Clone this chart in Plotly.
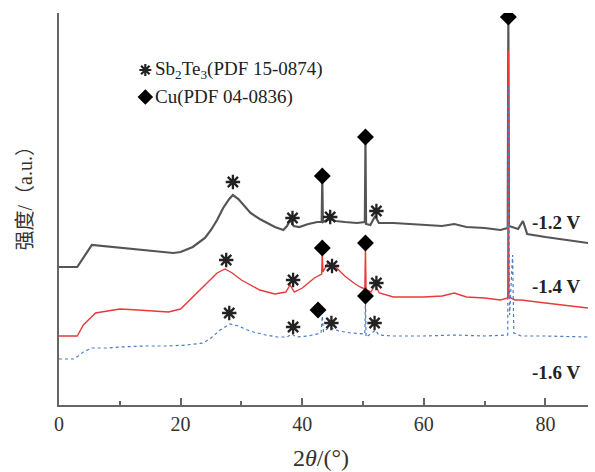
import plotly.graph_objects as go

# ---- data (2θ in degrees, intensity in a.u. incl. vertical offset) ----
x_12 = [0, 3.0, 5.4, 7, 10, 13, 16, 18.8, 20, 22, 24, 25, 26, 27, 28, 28.6, 29.5, 30.5, 31.5, 33,
        34.2, 35.5, 36.9, 37.5, 38, 38.6, 39.5, 41, 42.5, 43.2, 43.3, 43.4, 44.5, 45.5, 47, 49, 50.3,
        50.4, 50.5, 51.2, 52, 52.6, 55, 60, 63, 65, 67, 70, 72.6, 73.8, 73.9, 74.0, 74.8, 75.5, 76.3,
        77, 80, 84, 87]
y_12 = [138, 138, 160, 159, 157, 155, 153, 152, 153, 158, 167, 175, 185, 197, 206, 210, 206, 199, 192, 186,
        182, 178, 175, 179, 185, 179, 178, 181, 183, 183, 225, 183, 186, 184, 183, 182, 183,
        262, 181, 180, 189, 182, 182, 180, 179, 181, 178, 177, 175, 177, 385, 179, 177, 176, 184,
        171, 168, 165, 162]

x_14 = [0, 3.0, 4, 6, 8, 10, 13, 16, 18, 20, 21.5, 23, 24.5, 26, 27.3, 28.5, 30, 31.4, 33, 35.5, 37.3,
        38, 38.7, 40, 42, 43.2, 43.3, 43.4, 44.3, 45.5, 47, 48.5, 49.5, 50.3, 50.4, 50.5, 51.3, 52, 52.7,
        55, 60, 63, 65, 67, 70, 72.6, 73.8, 73.9, 74.0, 75, 76, 80, 84, 87]
y_14 = [69, 69, 80, 92, 94, 96, 95, 94, 93, 96, 105, 115, 123, 132, 136, 132, 125, 120, 115, 111, 113,
        120, 113, 117, 127, 131, 153, 133, 143, 138, 129, 122, 118, 116, 157, 115, 113, 120, 112,
        108, 108, 109, 112, 108, 107, 105, 107, 355, 108, 105, 105, 102, 99, 97]

x_16 = [0, 2.5, 4, 5.4, 8, 10, 14, 18, 21, 23.7, 25, 26.5, 28.1, 29.5, 31, 32, 34, 35.9, 37.5, 38.3, 39,
        41, 43.1, 43.3, 43.5, 44.5, 46, 48, 50.3, 50.4, 50.5, 51.5, 52, 52.6, 55, 60, 65, 70, 73.8, 73.9,
        74.1, 74.6, 74.8, 76, 80, 87]
y_16 = [46, 46, 53, 57, 57, 58, 59, 59, 60, 62, 67, 75, 81, 79, 75, 73, 70, 68, 68, 71, 68,
        69, 72, 89, 73, 78, 74, 72, 71, 105, 68, 72, 75, 70, 69, 69, 70, 69, 70, 320,
        90, 150, 72, 69, 69, 68]

# phase markers
sb_x = [28.6, 38.4, 44.6, 52.2, 27.5, 38.5, 44.9, 52.2, 28.0, 38.5, 44.8, 51.9]
sb_y = [223, 187, 188, 194, 145, 125, 139, 122, 92, 78, 82, 82]
cu_x = [43.3, 50.4, 73.9, 43.3, 50.4, 42.6, 50.4]
cu_y = [229, 268, 388, 157, 162, 95, 109]

# legend key positions
key_x = [14.2, 14.2]
key_y = [335, 308]
key_text = ["Sb<sub>2</sub>Te<sub>3</sub>(PDF 15-0874)", "Cu(PDF 04-0836)"]

curve_labels = ["-1.2 V", "-1.4 V", "-1.6 V"]
label_x = [81.7, 81.7, 81.7]
label_y = [183, 119, 33]

x_ticks = [0, 20, 40, 60, 80]

SERIF = "Liberation Serif, Times New Roman, serif"

fig = go.Figure()
fig.add_trace(go.Scatter(x=x_12, y=y_12, mode="lines",
                         line=dict(color="#555555", width=2.2), hoverinfo="skip"))
fig.add_trace(go.Scatter(x=x_14, y=y_14, mode="lines",
                         line=dict(color="#e8393b", width=1.4), hoverinfo="skip"))
fig.add_trace(go.Scatter(x=x_16, y=y_16, mode="lines",
                         line=dict(color="#4a7cc7", width=1.2, dash="dot"), hoverinfo="skip"))
fig.add_trace(go.Scatter(x=sb_x, y=sb_y, mode="markers",
                         marker=dict(symbol="asterisk-open", size=12, color="#222222",
                                     line=dict(color="#222222", width=2.3)), hoverinfo="skip"))
fig.add_trace(go.Scatter(x=cu_x, y=cu_y, mode="markers",
                         marker=dict(symbol="diamond", size=13, color="#000000"), hoverinfo="skip"))
fig.add_trace(go.Scatter(x=key_x[:1], y=key_y[:1], mode="markers",
                         marker=dict(symbol="asterisk-open", size=10, color="#222222",
                                     line=dict(color="#222222", width=2.2)), hoverinfo="skip"))
fig.add_trace(go.Scatter(x=key_x[1:], y=key_y[1:], mode="markers",
                         marker=dict(symbol="diamond", size=12, color="#000000"), hoverinfo="skip"))

for kx, ky, kt in zip(key_x, key_y, key_text):
    fig.add_annotation(x=kx + 1.2, y=ky, text=kt, showarrow=False, xanchor="left", yanchor="middle",
                       font=dict(family=SERIF, size=19, color="#222222"))

for lx, ly, lt in zip(label_x, label_y, curve_labels):
    fig.add_annotation(x=lx, y=ly, text="<b>" + lt + "</b>", showarrow=False, xanchor="center",
                       yanchor="middle", font=dict(family=SERIF, size=19, color="#222222"))

fig.add_annotation(xref="paper", yref="paper", x=-0.064, y=0.54, text="强度/（a.u.）", textangle=-90,
                   showarrow=False, xanchor="center", yanchor="middle",
                   font=dict(family="Liberation Serif, Noto Sans CJK SC", size=20, color="#333333"))
fig.add_annotation(xref="paper", yref="paper", x=0.495, y=-0.135, text="2<i>θ</i>/(°)",
                   showarrow=False, xanchor="center", yanchor="middle",
                   font=dict(family=SERIF, size=24, color="#333333"))

fig.update_layout(
    width=595, height=472, margin=dict(l=59, r=7, t=13, b=67),
    paper_bgcolor="white", plot_bgcolor="white", showlegend=False,
    xaxis=dict(range=[0, 87], tickvals=x_ticks, ticks="inside", ticklen=7, tickwidth=1.5,
               tickcolor="#666666", showline=True, linecolor="#666666", linewidth=1.5,
               showgrid=False, zeroline=False,
               tickfont=dict(family=SERIF, size=20, color="#333333"),
               minor=dict(dtick=10, tick0=0, ticks="inside", ticklen=4, tickwidth=1.5,
                          tickcolor="#666666", showgrid=False)),
    yaxis=dict(range=[0, 392], showticklabels=False, ticks="", showline=True,
               linecolor="#666666", linewidth=1.5, showgrid=False, zeroline=False),
)

fig.write_html("out.html")
